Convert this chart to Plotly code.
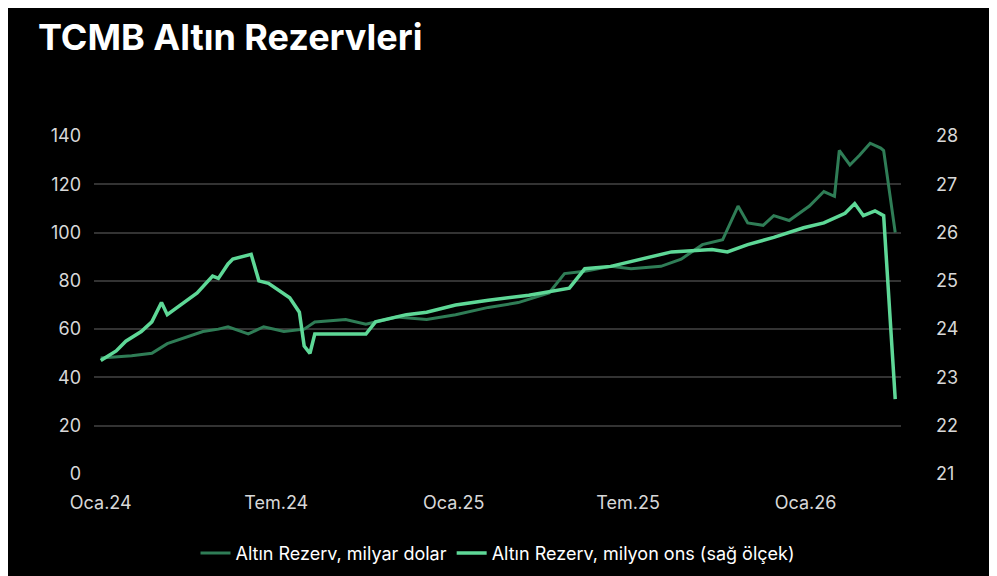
import plotly.graph_objects as go

usd_dates = ["2024-01-01","2024-02-02","2024-02-23","2024-03-10","2024-04-16","2024-05-02","2024-05-12","2024-06-02","2024-06-18","2024-07-09","2024-07-30","2024-08-10","2024-09-11","2024-10-02","2024-11-03","2024-12-04","2025-01-03","2025-02-06","2025-03-09","2025-04-10","2025-04-26","2025-05-17","2025-06-13","2025-07-04","2025-08-04","2025-08-25","2025-09-16","2025-10-07","2025-10-23","2025-11-02","2025-11-18","2025-11-29","2025-12-15","2026-01-05","2026-01-20","2026-01-31","2026-02-05","2026-02-16","2026-02-26","2026-03-09","2026-03-20","2026-03-23","2026-04-04"]
usd_vals = [48,49,50,54,59,60,61,58,61,59,60,63,64,62,65,64,66,69,71,75,83,84,86,85,86,89,95,97,111,104,103,107,105,111,117,115,134,128,132,137,135,134,100]

oz_dates = ["2024-01-01","2024-01-17","2024-01-27","2024-02-12","2024-02-23","2024-03-04","2024-03-10","2024-04-10","2024-04-26","2024-05-02","2024-05-12","2024-05-17","2024-06-05","2024-06-13","2024-06-23","2024-07-15","2024-07-25","2024-07-30","2024-08-05","2024-08-10","2024-09-05","2024-10-02","2024-10-12","2024-11-13","2024-12-04","2025-01-03","2025-02-06","2025-03-20","2025-05-01","2025-05-17","2025-06-13","2025-07-14","2025-08-15","2025-09-26","2025-10-12","2025-11-02","2025-11-29","2025-12-30","2026-01-20","2026-02-11","2026-02-21","2026-03-02","2026-03-14","2026-03-23","2026-04-04"]
oz_vals = [23.35,23.55,23.75,23.95,24.15,24.55,24.3,24.75,25.1,25.05,25.35,25.45,25.55,25.0,24.95,24.65,24.35,23.65,23.5,23.9,23.9,23.9,24.15,24.3,24.35,24.5,24.6,24.7,24.85,25.25,25.3,25.45,25.6,25.65,25.6,25.75,25.9,26.1,26.2,26.4,26.6,26.35,26.45,26.35,22.55]

tick_vals = ["2024-01-01","2024-07-01","2025-01-01","2025-07-01","2026-01-01"]
tick_text = ["Oca.24","Tem.24","Oca.25","Tem.25","Oca.26"]

fig = go.Figure()
fig.add_trace(go.Scatter(x=usd_dates, y=usd_vals, mode="lines", name="Altın Rezerv, milyar dolar",
                         line=dict(color="#2f7d56", width=3)))
fig.add_trace(go.Scatter(x=oz_dates, y=oz_vals, mode="lines", name="Altın Rezerv, milyon ons (sağ ölçek)",
                         line=dict(color="#5ed897", width=3.5), yaxis="y2"))

fig.update_layout(
    width=997, height=576, paper_bgcolor="black", plot_bgcolor="black",
    font=dict(family="Inter, Lato, sans-serif", color="#d8d8d8", size=18),
    title=dict(text="<b>TCMB Altın Rezervleri</b>", x=0.03, xanchor="left", y=0.97, yanchor="top",
               font=dict(size=36, color="white")),
    margin=dict(l=86, r=104, t=128, b=99),
    xaxis=dict(type="date", range=["2023-12-25","2026-04-10"], tickvals=tick_vals, ticktext=tick_text,
               showgrid=False, zeroline=False, showline=False, ticks="", ticklabelstandoff=16),
    yaxis=dict(range=[0,140], dtick=20, gridcolor="#333333", gridwidth=1.5, zeroline=False, ticks="",
               ticklabelstandoff=12),
    yaxis2=dict(range=[21,28], dtick=1, overlaying="y", side="right", showgrid=False, zeroline=False,
                ticks="", ticklabelstandoff=34),
    legend=dict(orientation="h", x=0.5, xanchor="center", y=-0.18, yanchor="top",
                font=dict(size=18, color="white")),
    showlegend=True,
)
fig.write_html("out.html")
